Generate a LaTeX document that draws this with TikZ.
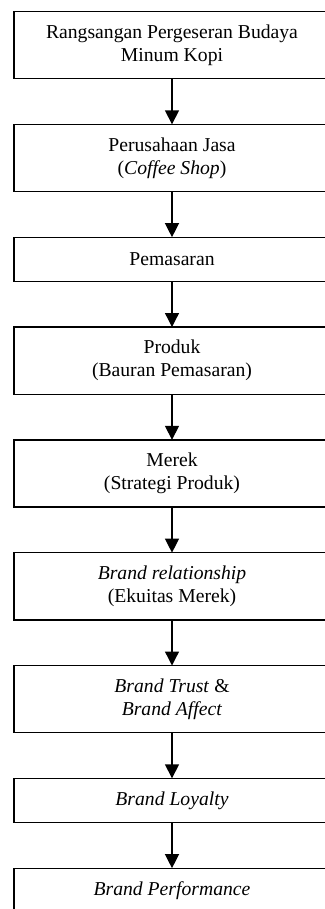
\documentclass[tikz,border=0pt]{standalone}
\usepackage{fontspec}
\setmainfont{Liberation Serif}
\usepackage{tikz}
\usetikzlibrary{arrows.meta,positioning}
\tikzset{
	>=Latex,
	flowbox/.style={
		draw,
		line width=0.8pt,
		outer sep=0pt,
		minimum width=189.6pt,
		minimum height=26.5pt,
		align=center,
		inner sep=2pt,
		font=\fontsize{11.8}{13.8}\selectfont
	},
	tallbox/.style={
		flowbox,
		minimum height=40.3pt
	},
	conn/.style={
		-{Triangle[length=8.4pt,width=8.4pt]},
		line width=0.8pt
	}
}
\begin{document}
\begin{tikzpicture}[x=0.6pt,y=-0.6pt,node distance=27.4pt]
	
	\useasboundingbox (0,0) rectangle (324,909);
	
	% --- FLOW BOXES ---
	\node[tallbox, anchor=north] (rangsangan) at (172,11.5)
	{Rangsangan Pergeseran Budaya\\Minum Kopi};
	\node[tallbox, below=of rangsangan] (perusahaan)
	{Perusahaan Jasa\\(\textit{Coffee Shop})};
	\node[flowbox, below=of perusahaan] (pemasaran) {Pemasaran};
	\node[tallbox, below=of pemasaran] (produk)
	{Produk\\(Bauran Pemasaran)};
	\node[tallbox, below=of produk] (merek)
	{Merek\\(Strategi Produk)};
	\node[tallbox, below=of merek] (relationship)
	{\textit{Brand relationship}\\(Ekuitas Merek)};
	\node[tallbox, below=of relationship] (trust)
	{\textit{Brand Trust} \&\\\textit{Brand Affect}};
	\node[flowbox, below=of trust] (loyalty) {\textit{Brand Loyalty}};
	\node[flowbox, below=of loyalty] (performance) {\textit{Brand Performance}};
	
	% --- ARROWS ---
	\foreach \i/\j in {rangsangan/perusahaan, perusahaan/pemasaran,
		pemasaran/produk, produk/merek, merek/relationship,
		relationship/trust, trust/loyalty, loyalty/performance} {
		\draw[conn] (\i.south) -- (\j.north);
	}
	
\end{tikzpicture}
\end{document}
